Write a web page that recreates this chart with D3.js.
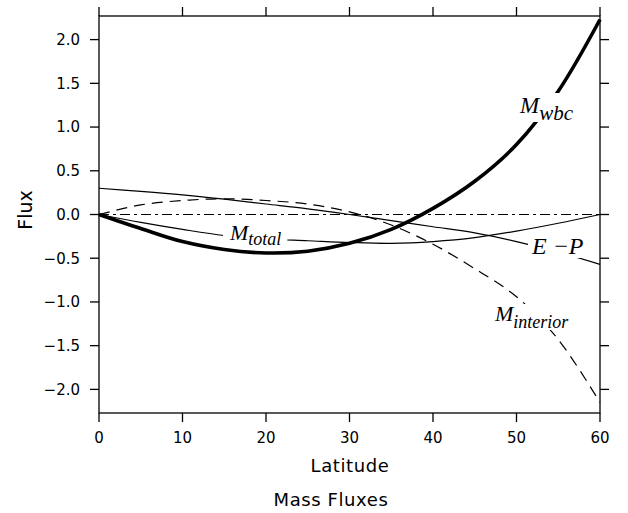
<!DOCTYPE html>
<html>
<head>
<meta charset="utf-8">
<script src="https://cdn.jsdelivr.net/npm/d3@7"></script>
<style>
  html, body { margin: 0; padding: 0; background: #fff; }
  svg { display: block; }
  .axis-title { font-family: "DejaVu Sans", sans-serif; font-size: 18px; fill: #000; }
  .tick-label { font-family: "DejaVu Sans", sans-serif; font-size: 15px; fill: #000; }
  .curve-label { font-family: "Liberation Serif", "Times New Roman", serif; font-style: italic; fill: #000; }
</style>
</head>
<body>
<svg id="chart" width="628" height="513"></svg>
<script>
// Latitude grid (degrees) and the mass-flux components at each latitude
const latitude   = [0, 5, 10, 15, 20, 25, 30, 35, 40, 45, 50, 55, 60];
const mWbc       = [0, -0.16, -0.31, -0.40, -0.44, -0.42, -0.33, -0.17, 0.07, 0.38, 0.80, 1.41, 2.23];
const mTotal     = [0, -0.09, -0.17, -0.24, -0.28, -0.30, -0.32, -0.33, -0.31, -0.265, -0.19, -0.10, 0];
const ePrecip    = [0.30, 0.265, 0.225, 0.175, 0.12, 0.065, 0.0, -0.07, -0.14, -0.21, -0.31, -0.43, -0.57];
const mInterior  = [0, 0.11, 0.16, 0.18, 0.16, 0.12, 0.03, -0.12, -0.34, -0.62, -0.94, -1.43, -2.15];
const zeroLine   = [0, 0];
const zeroLat    = [0, 60];

const xTicks = [0, 10, 20, 30, 40, 50, 60];
const yTicks = [-2.0, -1.5, -1.0, -0.5, 0.0, 0.5, 1.0, 1.5, 2.0];

const svg = d3.select("#chart");
const plotLeft = 99, plotRight = 600, plotTop = 16, plotBottom = 413;
const tickLen = 9;

const x = d3.scaleLinear().domain([0, 60]).range([plotLeft, plotRight]);
const y = d3.scaleLinear().domain([-2.27, 2.27]).range([plotBottom, plotTop]);

const line = (xs, ys) => d3.line()
  .x((d, i) => x(xs[i]))
  .y(d => y(d))
  .curve(d3.curveCatmullRom.alpha(0.5))(ys);

// curves
const curves = svg.append("g").attr("fill", "none").attr("stroke", "#000");
curves.append("path").attr("d", line(zeroLat, zeroLine))
  .attr("stroke-width", 1.1).attr("stroke-dasharray", "10,4,3,4");
curves.append("path").attr("d", line(latitude, ePrecip)).attr("stroke-width", 1.2);
curves.append("path").attr("d", line(latitude, mTotal)).attr("stroke-width", 1.2);
curves.append("path").attr("d", line(latitude, mInterior))
  .attr("stroke-width", 1.2).attr("stroke-dasharray", "11,7");
curves.append("path").attr("d", line(latitude, mWbc)).attr("stroke-width", 3.6);

// curve labels, each set on a white patch that breaks its curve
const labels = [
  { main: "M", sub: "wbc",      x: 520, y: 113, size: 23, subSize: 21, subDy: 7, pad: [3, 20, 3, 9] },
  { main: "M", sub: "total",    x: 230, y: 240, size: 22, subSize: 18, subDy: 5, pad: [6, 16, 6, 7] },
  { main: "M", sub: "interior", x: 495, y: 321, size: 22, subSize: 18, subDy: 7, pad: [4, 17, 4, 9] },
  { main: "E \u2212P", sub: "", x: 532, y: 254, size: 24, subSize: 0, subDy: 0, pad: [3, 16, 3, 4] }
];
labels.forEach(l => {
  const g = svg.append("g");
  const bg = g.append("rect").attr("fill", "#fff");
  const t = g.append("text").attr("class", "curve-label")
    .attr("x", l.x).attr("y", l.y);
  t.append("tspan").attr("font-size", l.size + "px").text(l.main);
  if (l.sub) t.append("tspan").attr("font-size", l.subSize + "px").attr("dy", l.subDy).text(l.sub);
  const bb = t.node().getBBox();
  bg.attr("x", bb.x - l.pad[0]).attr("y", l.y - l.pad[1])
    .attr("width", bb.width + l.pad[0] + l.pad[2]).attr("height", l.pad[1] + l.pad[3]);
});

// frame with outward ticks on all four sides
const axes = svg.append("g").attr("stroke", "#000").attr("stroke-width", 1.3);
axes.append("rect").attr("x", plotLeft).attr("y", plotTop)
  .attr("width", plotRight - plotLeft).attr("height", plotBottom - plotTop).attr("fill", "none");
xTicks.forEach(v => {
  axes.append("line").attr("x1", x(v)).attr("x2", x(v)).attr("y1", plotBottom).attr("y2", plotBottom + tickLen);
  axes.append("line").attr("x1", x(v)).attr("x2", x(v)).attr("y1", plotTop).attr("y2", plotTop - tickLen);
});
yTicks.forEach(v => {
  axes.append("line").attr("x1", plotLeft).attr("x2", plotLeft - tickLen).attr("y1", y(v)).attr("y2", y(v));
  axes.append("line").attr("x1", plotRight).attr("x2", plotRight + tickLen).attr("y1", y(v)).attr("y2", y(v));
});

// tick labels
const fmtY = d3.format(".1f");
svg.append("g").selectAll("text").data(yTicks).join("text")
  .attr("class", "tick-label").attr("text-anchor", "end")
  .attr("x", plotLeft - tickLen - 10).attr("y", d => y(d)).attr("dy", "0.36em")
  .text(d => fmtY(d));
svg.append("g").selectAll("text").data(xTicks).join("text")
  .attr("class", "tick-label").attr("text-anchor", "middle")
  .attr("x", d => x(d)).attr("y", 443)
  .text(d => d);

// axis titles and caption
svg.append("text").attr("class", "axis-title").attr("text-anchor", "middle")
  .attr("transform", "translate(32,210) rotate(-90)").style("font-size", "19px").text("Flux");
svg.append("text").attr("class", "axis-title").attr("text-anchor", "middle")
  .attr("x", 350).attr("y", 472).style("letter-spacing", "0.6px").text("Latitude");
svg.append("text").attr("class", "axis-title").attr("text-anchor", "middle")
  .attr("x", 331).attr("y", 506).style("letter-spacing", "0.6px").text("Mass Fluxes");
</script>
</body>
</html>
